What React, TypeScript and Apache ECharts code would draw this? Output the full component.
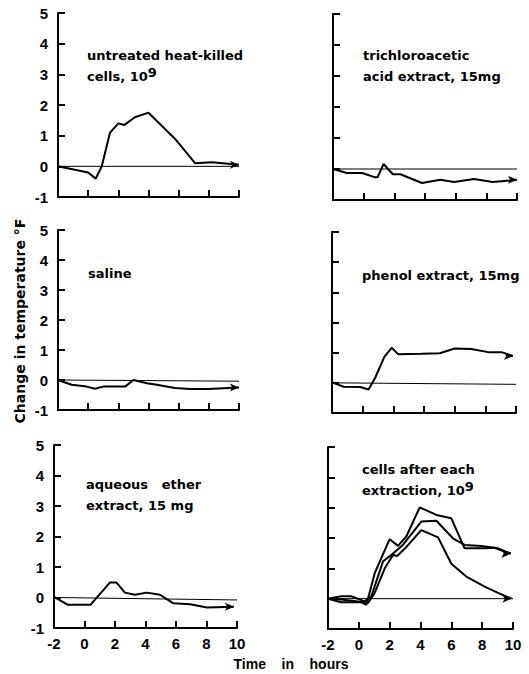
import React, { useEffect, useRef } from "react";
import * as echarts from "echarts";

// ---- data (x = time in hours, y = change in temperature °F) ----
const xTicks = [-2, 0, 2, 4, 6, 8, 10];
const yTicks = [-1, 0, 1, 2, 3, 4, 5];

const heatKilled = [[-2, 0], [0, -0.2], [0.5, -0.4], [0.9, 0], [1.45, 1.1], [2, 1.4], [2.4, 1.35], [3.1, 1.6], [4, 1.75], [5.75, 0.9], [7.1, 0.1], [8.2, 0.13], [10, 0.05]];
const tcaExtract = [[-2, 0], [-1.1, -0.13], [-0.1, -0.13], [0.75, -0.27], [0.9, -0.27], [1.3, 0.16], [1.9, -0.17], [2.4, -0.17], [3.8, -0.45], [5, -0.35], [5.9, -0.42], [7.2, -0.32], [8.4, -0.42], [10, -0.35]];
const saline = [[-2, 0], [-1.1, -0.16], [-0.1, -0.22], [0.45, -0.29], [1, -0.22], [2.45, -0.22], [3, 0], [3.9, -0.11], [4.55, -0.16], [5.75, -0.27], [6.75, -0.3], [7.95, -0.3], [10, -0.25]];
const phenolExtract = [[-2, 0.02], [-1.24, -0.13], [-0.16, -0.14], [0.38, -0.22], [0.81, 0.16], [1.42, 0.87], [1.89, 1.16], [2.32, 0.95], [3.84, 0.96], [5.03, 0.98], [6, 1.14], [7.08, 1.12], [8.27, 1.01], [9.1, 1.01], [9.8, 0.89]];
const etherExtract = [[-2, 0.02], [-1.08, -0.24], [0.39, -0.24], [1.66, 0.49], [2.1, 0.49], [2.65, 0.16], [3.3, 0.09], [4.08, 0.16], [4.95, 0.09], [5.83, -0.19], [6.93, -0.22], [8.03, -0.33], [9.8, -0.3]];
const cellsA = [[-2, 0], [-1.14, -0.12], [0.16, -0.12], [0.49, -0.2], [1.03, 0.84], [2, 1.96], [2.54, 1.74], [3.08, 2.05], [3.95, 3.01], [5.03, 2.76], [6, 2.65], [6.86, 1.66], [8.16, 1.66], [8.8, 1.68], [9.46, 1.55], [9.85, 1.5]];
const cellsB = [[-2, 0], [-1.14, 0.08], [-0.49, 0.08], [0.38, -0.09], [0.81, 0.08], [1.57, 1.23], [2.1, 1.44], [2.86, 1.77], [4.05, 2.54], [5.03, 2.57], [6.1, 1.99], [6.86, 1.77], [7.95, 1.74], [9.03, 1.66], [9.85, 1.48]];
const cellsC = [[-2, 0], [-1.14, -0.03], [-0.05, -0.09], [0.6, -0.14], [1.03, 0.19], [1.68, 1.0], [2.22, 1.44], [2.5, 1.41], [3, 1.66], [4.05, 2.26], [5.14, 2.02], [6, 1.15], [6.97, 0.73], [8.16, 0.4], [9.03, 0.19], [9.9, 0]];

// baselines (thin reference lines)
const base1 = [[-2, 0], [10, 0]];
const base2 = [[-2, 0], [10, 0]];
const base3 = [[-2, 0], [10, -0.04]];
const base4 = [[-2, 0], [10, -0.05]];
const base5 = [[-2, 0], [10, -0.08]];
const base6 = [[-2, 0], [10, 0]];

const panelLabels = [
  "untreated heat-killed\ncells, 10{sup|9}",
  "trichloroacetic\nacid extract, 15mg",
  "saline",
  "phenol extract, 15mg",
  "aqueous   ether\nextract, 15 mg",
  "cells after each\nextraction, 10{sup|9}",
];
const yTitle = "Change in temperature °F";
const xTitle = "Time    in    hours";

const FONT = "Liberation Sans";
const WIDE = "DejaVu Sans";

const grids = [
  { left: 58, top: 13, width: 181, height: 184 },
  { left: 333, top: 14, width: 184, height: 186 },
  { left: 58, top: 230, width: 181, height: 180 },
  { left: 332, top: 232, width: 184, height: 181 },
  { left: 54, top: 445, width: 183, height: 183 },
  { left: 328, top: 447, width: 185, height: 182 },
];
const labelPos = [
  { x: 87, y: 45 },
  { x: 363, y: 45 },
  { x: 88, y: 263 },
  { x: 362, y: 265 },
  { x: 86, y: 474 },
  { x: 362, y: 459 },
];

export default function App() {
  const ref = useRef<HTMLDivElement>(null);
  useEffect(() => {
    if (!ref.current) return;
    const chart = echarts.init(ref.current, null, { renderer: "svg" });
    const axisLine = { show: true, onZero: false, lineStyle: { color: "#000", width: 2 } };
    const axisTick = { inside: true, length: 7, lineStyle: { color: "#000", width: 2 } };
    const labelStyle = { color: "#000", fontSize: 15, fontWeight: "bold" as const, fontFamily: FONT };

    const xAxis = grids.map((_, i) => ({
      type: "value" as const,
      gridIndex: i,
      min: xTicks[0],
      max: xTicks[xTicks.length - 1],
      interval: 2,
      axisLine,
      axisTick,
      splitLine: { show: false },
      axisLabel: { show: i >= 4, margin: 8, ...labelStyle },
    }));
    const yAxis = grids.map((_, i) => ({
      type: "value" as const,
      gridIndex: i,
      min: yTicks[0],
      max: yTicks[yTicks.length - 1],
      interval: 1,
      axisLine,
      axisTick,
      splitLine: { show: false },
      axisLabel: { show: i % 2 === 0, margin: 10, ...labelStyle },
    }));

    const withArrow = (d: number[][]) =>
      d.map((p, k) =>
        k === d.length - 1
          ? { value: p, symbol: "arrow", symbolSize: [6, 9], symbolRotate: -90 }
          : { value: p, symbol: "none" }
      );
    const line = (d: number[][], i: number) => ({
      type: "line" as const,
      xAxisIndex: i,
      yAxisIndex: i,
      data: withArrow(d),
      showSymbol: true,
      symbol: "none",
      itemStyle: { color: "#000" },
      lineStyle: { color: "#000", width: 2 },
      silent: true,
    });
    const base = (d: number[][], i: number) => ({
      type: "line" as const,
      xAxisIndex: i,
      yAxisIndex: i,
      data: d,
      symbol: "none",
      lineStyle: { color: "#000", width: 1 },
      silent: true,
      z: 1,
    });

    const series = [
      base(base1, 0), line(heatKilled, 0),
      base(base2, 1), line(tcaExtract, 1),
      base(base3, 2), line(saline, 2),
      base(base4, 3), line(phenolExtract, 3),
      base(base5, 4), line(etherExtract, 4),
      base(base6, 5), line(cellsA, 5), line(cellsB, 5), line(cellsC, 5),
    ];

    const title = panelLabels.map((t, i) => ({
      text: t,
      left: labelPos[i].x,
      top: labelPos[i].y,
      padding: 0,
      textStyle: {
        color: "#000",
        fontSize: 13,
        fontWeight: "bold" as const,
        fontFamily: WIDE,
        lineHeight: 21,
        rich: {
          sup: { fontSize: 13, fontWeight: "bold", fontFamily: WIDE, color: "#000", verticalAlign: "top", lineHeight: 12 },
        },
      },
    }));

    chart.setOption({
      animation: false,
      backgroundColor: "#fff",
      grid: grids,
      xAxis,
      yAxis,
      series,
      title,
      graphic: [
        {
          type: "text",
          x: 20,
          y: 321,
          rotation: Math.PI / 2,
          style: { text: yTitle, fill: "#000", font: `bold 14px "${WIDE}"`, textAlign: "center", textVerticalAlign: "middle" },
        },
        {
          type: "text",
          x: 291,
          y: 664,
          style: { text: xTitle, fill: "#000", font: `bold 14px "${FONT}"`, textAlign: "center", textVerticalAlign: "middle" },
        },
      ],
    });
    return () => chart.dispose();
  }, []);
  return <div ref={ref} style={{ position: "fixed", left: 0, top: 0, width: 529, height: 674 }} />;
}
